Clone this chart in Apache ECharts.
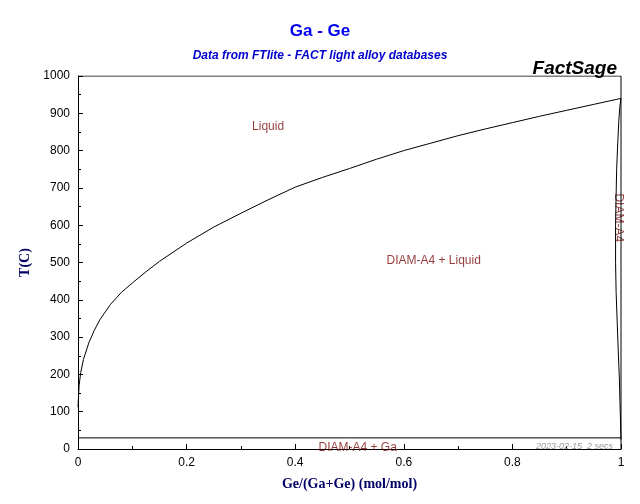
<!DOCTYPE html>
<html><head><meta charset="utf-8">
<script src="https://cdn.jsdelivr.net/npm/echarts@6/dist/echarts.min.js"></script>
<style>html,body{margin:0;padding:0;background:#fff}#c{width:640px;height:504px}</style>
</head><body><div id="c"></div>
<script>
const liquidusX = [0,0.002,0.005,0.01,0.02,0.03,0.04,0.06,0.08,0.1,0.125,0.15,0.2,0.25,0.3,0.35,0.4,0.45,0.5,0.55,0.6,0.65,0.7,0.75,0.8,0.85,0.9,0.95,1];
const liquidusT = [112,170,205,240,285,318,346,388,420,445,475,503,552,595,632,668,702,728,752,777,800,820,840,858,875,892,908,924,940];
const solidusX = [1,0.998,0.996,0.994,0.992,0.991,0.990,0.990,0.991,0.993,0.995,0.997,0.998,0.999,1];
const solidusT = [940,920,880,820,750,680,600,500,420,340,260,190,130,80,25];
const eutecticX = [0,1];
const eutecticT = [29.8,29.8];
const labels = [
  {text:'Liquid', x:0.35, y:865},
  {text:'DIAM-A4 + Liquid', x:0.655, y:505},
  {text:'DIAM-A4 + Ga', x:0.515, y:3}
];
const zip=(a,b)=>a.map((v,i)=>[v,b[i]]);
const chart = echarts.init(document.getElementById('c'));
const ax = {lineStyle:{color:'#000',width:1}};
chart.setOption({
  animation:false,
  title:[
    {text:'Ga - Ge',left:'center',top:18,textStyle:{color:'#0000ee',fontSize:17,fontWeight:'bold',fontFamily:'Liberation Sans'}},
    {text:'Data from FTlite - FACT light alloy databases',left:'center',top:45,textStyle:{color:'#0000cc',fontSize:12,fontStyle:'italic',fontWeight:'bold',fontFamily:'Liberation Sans'}},
    {text:'FactSage',right:18,top:54,textStyle:{color:'#000',fontSize:19,fontStyle:'italic',fontWeight:'bold',fontFamily:'Liberation Sans'}},
    {text:'2023-02-15  2 secs',right:22,top:437,textStyle:{color:'#999',fontSize:9,fontStyle:'italic',fontWeight:'normal',fontFamily:'Liberation Sans'}}
  ],
  grid:{left:78,right:19,top:76,bottom:55},
  xAxis:{type:'value',min:0,max:1,interval:0.2,
    name:'Ge/(Ga+Ge) (mol/mol)',nameLocation:'middle',nameGap:28,
    nameTextStyle:{color:'#000066',fontSize:14,fontWeight:'bold',fontFamily:'Liberation Serif'},
    axisLine:ax,axisTick:{inside:true,length:5,lineStyle:{color:'#000'}},
    minorTick:{show:true,splitNumber:2,length:3,lineStyle:{color:'#000'}},
    axisLabel:{color:'#000',fontSize:12,fontFamily:'Liberation Sans',formatter:v=>String(+v.toFixed(1))},
    splitLine:{show:false}},
  yAxis:{type:'value',min:0,max:1000,interval:100,
    name:'T(C)',nameLocation:'middle',nameGap:40,
    nameTextStyle:{color:'#000066',fontSize:14,fontWeight:'bold',fontFamily:'Liberation Serif'},
    axisLine:ax,axisTick:{inside:true,length:5,lineStyle:{color:'#000'}},
    minorTick:{show:true,splitNumber:2,length:3,lineStyle:{color:'#000'}},
    axisLabel:{color:'#000',fontSize:12,fontFamily:'Liberation Sans',formatter:v=>String(v)},
    splitLine:{show:false}},
  series:[
    {type:'line',data:zip(liquidusX,liquidusT),symbol:'none',lineStyle:{color:'#000',width:1}},
    {type:'line',data:zip(solidusX,solidusT),symbol:'none',lineStyle:{color:'#000',width:1}},
    {type:'line',data:zip(eutecticX,eutecticT),symbol:'none',lineStyle:{color:'#000',width:1}},
    {type:'line',data:[[1,0],[1,1000],[0,1000]],symbol:'none',lineStyle:{color:'#000',width:1},silent:true},
    {type:'scatter',symbolSize:0,data:labels.map(l=>[l.x,l.y,l.text]),
      label:{show:true,formatter:p=>p.data[2],color:'#7a0a0a',fontSize:12,fontFamily:'Liberation Sans'}},
    {type:'scatter',symbolSize:0,data:[[0.995,620,'DIAM-A4']],
      label:{show:true,formatter:p=>p.data[2],color:'#7a0a0a',fontSize:12,rotate:-90,fontFamily:'Liberation Sans'}}
  ]
});
</script></body></html>
